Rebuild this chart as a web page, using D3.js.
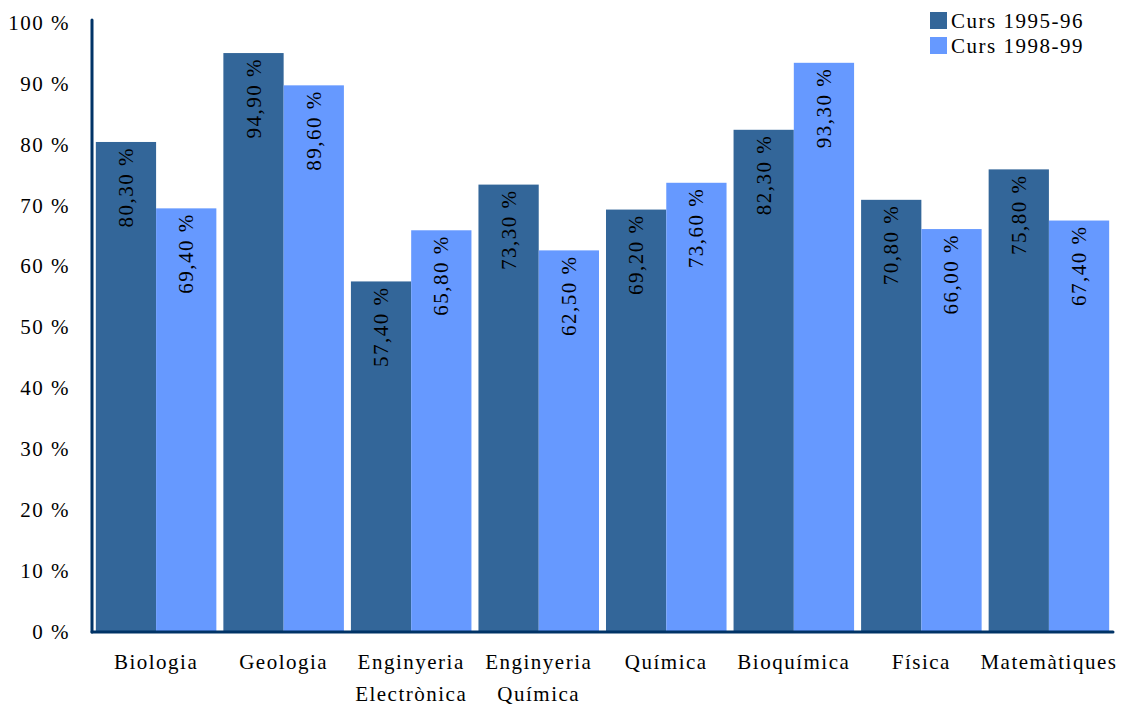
<!DOCTYPE html>
<html>
<head>
<meta charset="utf-8">
<script src="https://cdn.jsdelivr.net/npm/d3@7"></script>
<style>
  body { margin: 0; background: #fff; }
  #chart text { fill: #000; letter-spacing: 1.5px; }
</style>
</head>
<body>
<svg id="chart" width="1123" height="709"></svg>
<script>
// Percentatges per estudi i curs
const categories = [
  ["Biologia"],
  ["Geologia"],
  ["Enginyeria", "Electrònica"],
  ["Enginyeria", "Química"],
  ["Química"],
  ["Bioquímica"],
  ["Física"],
  ["Matemàtiques"]
];
const seriesNames = ["Curs 1995-96", "Curs 1998-99"];
const curs1995 = [80.3, 94.9, 57.4, 73.3, 69.2, 82.3, 70.8, 75.8];
const curs1998 = [69.4, 89.6, 65.8, 62.5, 73.6, 93.3, 66.0, 67.4];
const yTicks = [0, 10, 20, 30, 40, 50, 60, 70, 80, 90, 100];
const colors = ["#336699", "#6699FF"];

const FONT = "Times New Roman, Times, Liberation Serif, Tinos, Noto Serif, DejaVu Serif, FreeSerif, serif";
const FS = 21;

const svg = d3.select("#chart");
const x0 = 92, x1 = 1113, yTop = 22, yBot = 631;

const x = d3.scaleBand()
  .domain(d3.range(categories.length))
  .range([x0, x1])
  .paddingInner(0.055)
  .paddingOuter(0.03);
const xs = d3.scaleBand()
  .domain([0, 1])
  .range([0, x.bandwidth()]);
const y = d3.scaleLinear().domain([0, 100]).range([yBot, yTop]);

const fmt = v => v.toFixed(2).replace(".", ",") + " %";

const rows = categories.map((c, i) => ({ i, vals: [curs1995[i], curs1998[i]] }));

const groups = svg.append("g").selectAll("g")
  .data(rows).join("g")
  .attr("transform", d => `translate(${x(d.i)},0)`);

groups.selectAll("rect")
  .data(d => d.vals.map((v, s) => ({ v, s })))
  .join("rect")
  .attr("x", d => xs(d.s))
  .attr("width", xs.bandwidth())
  .attr("y", d => y(d.v))
  .attr("height", d => y(0) - y(d.v))
  .attr("fill", d => colors[d.s]);

groups.selectAll("text.val")
  .data(d => d.vals.map((v, s) => ({ v, s })))
  .join("text")
  .attr("class", "val")
  .style("font-family", FONT)
  .attr("transform", d => `translate(${xs(d.s) + xs.bandwidth() / 2 + 7},${y(d.v) + 5}) rotate(-90)`)
  .attr("text-anchor", "end")
  .attr("font-size", FS)
  .text(d => fmt(d.v));

// Eix Y
const yAxis = svg.append("g")
  .attr("transform", `translate(${x0},0)`)
  .call(d3.axisLeft(y).tickValues(yTicks).tickSize(0).tickPadding(22).tickFormat(d => d + " %"));
yAxis.select(".domain").remove();
yAxis.selectAll("text")
  .attr("font-size", FS)
  .style("font-family", FONT)
  .attr("dy", "0.35em")
  .attr("fill", "#000");

// Línies dels eixos
svg.append("line")
  .attr("x1", x0).attr("x2", x0).attr("y1", yTop - 2).attr("y2", yBot + 1)
  .attr("stroke", "#003366").attr("stroke-width", 3).attr("stroke-linecap", "round");
svg.append("line")
  .attr("x1", x0).attr("x2", x1).attr("y1", yBot + 1).attr("y2", yBot + 1)
  .attr("stroke", "#003366").attr("stroke-width", 3).attr("stroke-linecap", "round");

// Etiquetes de categoria
const cat = svg.append("g").selectAll("text")
  .data(categories).join("text")
  .attr("x", (d, i) => x(i) + x.bandwidth() / 2)
  .attr("y", 669)
  .attr("text-anchor", "middle")
  .style("font-family", FONT)
  .attr("font-size", FS);
cat.selectAll("tspan")
  .data(d => d).join("tspan")
  .attr("x", function () { return d3.select(this.parentNode).attr("x"); })
  .attr("dy", (d, j) => j === 0 ? 0 : 32)
  .text(d => d);

// Llegenda
const legend = svg.append("g").selectAll("g")
  .data(seriesNames).join("g")
  .attr("transform", (d, i) => `translate(930,${12 + i * 25})`);
legend.append("rect")
  .attr("width", 17).attr("height", 17)
  .attr("fill", (d, i) => colors[i]);
legend.append("text")
  .attr("x", 21).attr("y", 16)
  .style("font-family", FONT)
  .attr("font-size", FS)
  .text(d => d);
</script>
</body>
</html>
